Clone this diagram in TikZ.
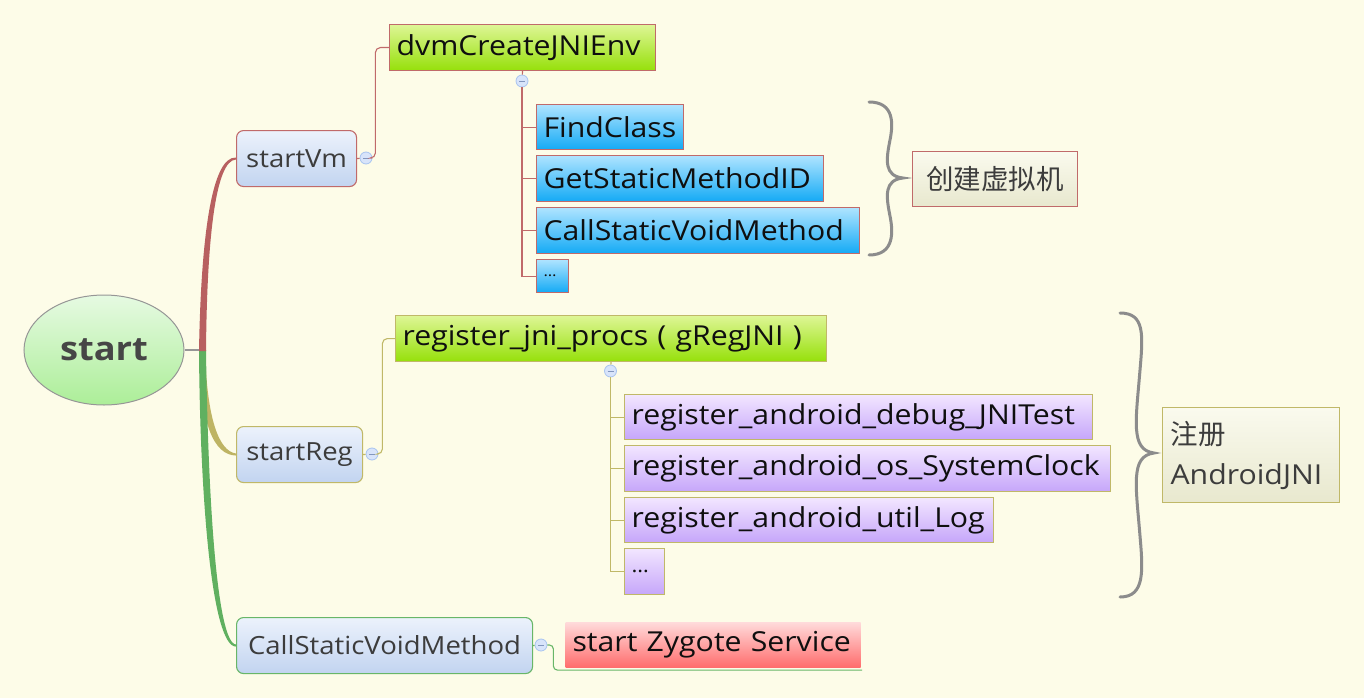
\documentclass[tikz,border=0pt]{standalone}
\usepackage{fontspec}
\setmainfont{Open Sans}[FakeStretch=1.1]
\newfontfamily\cjk{Noto Sans CJK SC}
\usetikzlibrary{calc,shapes.geometric}
\definecolor{bg}{RGB}{253,252,232}
\definecolor{redb}{RGB}{192,106,106}
\definecolor{oliveb}{RGB}{192,184,104}
\definecolor{greenb}{RGB}{104,182,104}
\definecolor{redbr}{RGB}{184,96,96}
\definecolor{olivebr}{RGB}{190,180,100}
\definecolor{greenbr}{RGB}{96,176,96}
\definecolor{lonetop}{RGB}{236,242,252}
\definecolor{lonebot}{RGB}{194,212,240}
\definecolor{gtop}{RGB}{222,246,150}
\definecolor{gbot}{RGB}{150,224,10}
\definecolor{btop}{RGB}{175,228,255}
\definecolor{bbot}{RGB}{20,170,245}
\definecolor{ptop}{RGB}{242,230,255}
\definecolor{pbot}{RGB}{198,166,250}
\definecolor{ntop}{RGB}{250,250,238}
\definecolor{nbot}{RGB}{232,232,206}
\definecolor{ztop}{RGB}{255,218,218}
\definecolor{zbot}{RGB}{255,108,108}
\definecolor{rtop}{RGB}{230,250,226}
\definecolor{rbot}{RGB}{172,238,152}
\definecolor{rootb}{RGB}{150,150,150}
\definecolor{roott}{RGB}{70,70,70}
\definecolor{cfill}{RGB}{216,228,250}
\definecolor{cbord}{RGB}{168,196,240}
\definecolor{cminus}{RGB}{130,150,190}
\definecolor{txtg}{RGB}{60,60,60}
\definecolor{txtk}{RGB}{15,15,15}
\definecolor{bracec}{RGB}{140,140,140}
\begin{document}
\begin{tikzpicture}[x=1pt,y=-1pt,
  lvone/.style={draw=#1, rounded corners=7pt, top color=lonetop, bottom color=lonebot,
    text=txtg, font=\fontsize{25}{30}\selectfont, anchor=north west, inner sep=0pt, line width=1.1pt},
  topic/.style={anchor=north west, inner xsep=7pt, inner ysep=0pt, align=left, text=txtk,
    font=\fontsize{27.5}{32}\selectfont, line width=1.1pt},
  gtopic/.style={topic, top color=gtop, bottom color=gbot, draw=#1},
  btopic/.style={topic, top color=btop, bottom color=bbot, draw=redb},
  ptopic/.style={topic, top color=ptop, bottom color=pbot, draw=oliveb},
  ztopic/.style={topic, top color=ztop, bottom color=zbot},
  note/.style={anchor=north west, top color=ntop, bottom color=nbot, draw=#1, text=txtg,
    line width=1.1pt, inner xsep=8pt, inner ysep=0pt, font=\fontsize{27.5}{40}\selectfont},
  collapse/.style={circle, draw=cbord, fill=cfill, minimum size=12pt, inner sep=0pt, line width=0.8pt,
    path picture={\draw[cminus, line width=0.8pt]
      ($(path picture bounding box.center)+(-3,0)$) -- ($(path picture bounding box.center)+(3,0)$);}},
  redl/.style={draw=redb, line width=1.1pt},
  olivel/.style={draw=oliveb, line width=1.1pt},
  greenl/.style={draw=greenb, line width=1.1pt},
  bracel/.style={draw=bracec, line width=3pt, line cap=round},
  smalldots/.style={font=\fontsize{15}{18}\selectfont},
  meddots/.style={font=\fontsize{20}{24}\selectfont}
]
\fill[bg] (0,0) rectangle (1364,698);
\useasboundingbox (0,0) rectangle (1364,698);

% root
\node[ellipse, draw=rootb, line width=1pt, top color=rtop, bottom color=rbot,
  minimum width=160pt, minimum height=110pt, inner sep=0pt, text=roott,
  font=\bfseries\fontsize{33}{38}\selectfont] (root) at (104,350) {start};
\coordinate (J) at (202,350);

% level one
\node[lvone=redb, minimum width=120pt, minimum height=56pt] (vm) at (236,130) {startVm};
\node[lvone=oliveb, minimum width=126pt, minimum height=56pt] (sreg) at (236,426) {startReg};
\node[lvone=greenb, minimum width=296pt, minimum height=56pt] (call) at (236,617) {CallStaticVoidMethod};

% collapse buttons
\node[collapse] (c1) at (366,158) {};
\node[collapse] (c2) at (522,81) {};
\node[collapse] (c3) at (372,454) {};
\node[collapse] (c4) at (610.5,371) {};
\node[collapse] (c5) at (541,645) {};

% startVm subtree
\node[gtopic=redb, text width=252pt, minimum height=46pt] (dvm) at (389,24) {dvmCreateJNIEnv};
\node[btopic, text width=133pt, minimum height=45pt] (fc) at (536,104) {FindClass};
\node[btopic, text width=273pt, minimum height=46pt] (gs) at (536,155) {GetStaticMethodID};
\node[btopic, text width=309pt, minimum height=46pt] (cs) at (536,207) {CallStaticVoidMethod};
\node[btopic, text width=18pt, minimum height=33pt, smalldots] (d1) at (536,259) {\ldots};
\node[note=redb, text width=149pt, minimum height=55pt, align=center] (n1) at (912,151) {\cjk 创建虚拟机};

% startReg subtree
\node[gtopic=oliveb, text width=417pt, minimum height=46pt] (regp) at (395,315) {register\_jni\_procs ( gRegJNI )};
\node[ptopic, text width=454pt, minimum height=45pt] (p1) at (624,394) {register\_android\_debug\_JNITest};
\node[ptopic, text width=472pt, minimum height=46pt] (p2) at (624,445) {register\_android\_os\_SystemClock};
\node[ptopic, text width=355pt, minimum height=45pt] (p3) at (624,497) {register\_android\_util\_Log};
\node[ptopic, text width=26pt, minimum height=46pt, meddots] (p4) at (624,548) {\ldots};
\node[note=oliveb, text width=161pt, minimum height=95pt, align=left] (n2) at (1162,407) {{\cjk 注册}\\AndroidJNI};

% CallStaticVoidMethod subtree
\node[ztopic, text width=281pt, minimum height=45pt] (zyg) at (565,622) {start Zygote Service};

% root connector and branches
\draw[rootb, line width=1.2pt] (root.east) -- (J);
\fill[olivebr] ($(J)+(-3,0)$) .. controls (200,425) and (214,455) .. ($(sreg.west)+(0,1)$)
  -- ($(sreg.west)+(0,-1)$) .. controls (219,451) and (207,420) .. ($(J)+(3,0)$) -- cycle;
\fill[greenbr] ($(J)+(-3,0)$) .. controls (200,500) and (212,647) .. ($(call.west)+(0,1)$)
  -- ($(call.west)+(0,-1)$) .. controls (217,643) and (208,500) .. ($(J)+(4,0)$) -- cycle;
\fill[redbr] ($(J)+(-3,1)$) .. controls (201,235) and (212,156) .. ($(vm.west)+(0,-1)$)
  -- ($(vm.west)+(0,1)$) .. controls (216,160) and (207,235) .. ($(J)+(4,1)$) -- cycle;

% startVm connectors
\draw[redl] (vm.east) -- (c1);
\draw[redl, rounded corners=5pt] (c1.east) -- ++(3,0) |- (dvm.west);
\draw[redl] (dvm.south) -- (c2);
\draw[redl] (c2.south) |- (d1.west);
\foreach \n in {fc,gs,cs} \draw[redl] (c2.south |- \n.west) -- (\n.west);

% startReg connectors
\draw[olivel] (sreg.east) -- (c3);
\draw[olivel, rounded corners=5pt] (c3.east) -- ++(4,0) |- (regp.west);
\draw[olivel] (regp.south) -- (c4);
\draw[olivel] (c4.south) |- (p4.west);
\foreach \n in {p1,p2,p3} \draw[olivel] (c4.south |- \n.west) -- (\n.west);

% CallStaticVoidMethod connectors
\draw[greenl] (call.east) -- (c5);
\draw[greenl, rounded corners=4pt] (c5.east) -- ++(6,0) |- ($(zyg.south east)+(1,2)$);

% braces
\draw[bracel] (869,102) .. controls (895,102) and (893,125) .. (890,140)
  .. controls (886,160) and (884,176) .. (903,178)
  .. controls (884,180) and (886,196) .. (890,216)
  .. controls (893,231) and (895,255) .. (869,255);
\draw[bracel] (1120,313) .. controls (1145,313) and (1143,335) .. (1140,370)
  .. controls (1136,420) and (1130,450) .. (1154,453)
  .. controls (1130,456) and (1136,486) .. (1140,536)
  .. controls (1143,571) and (1145,597) .. (1120,597);
\end{tikzpicture}
\end{document}
